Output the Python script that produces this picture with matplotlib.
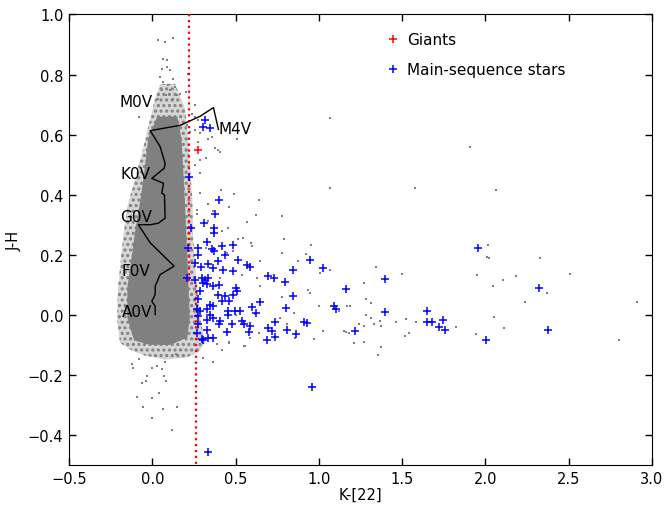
import matplotlib
matplotlib.use("Agg")
import matplotlib.pyplot as plt
from matplotlib.patches import Polygon

# dwarf sequence (locus) and its spectral type labels
locus_x = [0.397, 0.367, 0.287, 0.167, -0.013, 0.017, 0.047, 0.077, 0.071, -0.003, 0.067, 0.057,
           0.073, 0.077, 0.037, -0.013, -0.084, -0.013, 0.131, 0.047, 0.017, 0.017, -0.003, 0.017, 0.017]
locus_y = [0.617, 0.690, 0.661, 0.631, 0.613, 0.587, 0.560, 0.504, 0.488, 0.454, 0.438, 0.405,
           0.399, 0.322, 0.305, 0.300, 0.300, 0.240, 0.162, 0.134, 0.095, 0.067, 0.045, 0.029, 0.001]
sptype = ["M0V", "M4V", "K0V", "G0V", "F0V", "A0V"]
sptype_x = [0.0, 0.40, -0.01, 0.0, -0.01, 0.0]
sptype_y = [0.71, 0.62, 0.469, 0.329, 0.148, 0.012]

# colour cut (red dotted)
cut_x = [0.22, 0.22, None, 0.265, 0.265]
cut_y = [1.0, 0.10, None, 0.10, -0.5]

# giants
giant_x = [0.277]
giant_y = [0.548]

# main-sequence stars
ms_x = [0.317, 0.307, 0.347, 0.223,
        0.403, 0.377, 0.313, 0.371, 0.231, 0.371, 0.331, 0.484, 0.277, 0.358, 0.418, 0.373,
        0.438, 0.277, 0.397, 0.514, 0.257, 0.337, 0.568, 0.944, 0.584, 0.844, 1.025, 0.291,
        0.367, 0.692, 0.732, 0.794, 1.165, 0.844, 0.804, 1.088, 1.103, 0.738, 0.908, 0.928,
        0.692, 0.808, 0.718, 1.219, 0.864, 0.738, 0.688,
        0.424, 0.487, 0.211, 0.257, 0.297, 0.317, 0.337, 0.307, 0.327, 0.403, 0.367, 0.504,
        0.508, 0.287, 0.397, 0.438, 0.487, 0.277, 0.418, 0.463, 0.648, 0.347, 0.367, 0.598,
        0.267, 0.287, 0.327, 0.457, 0.498, 0.528, 0.624, 0.347, 0.457, 0.538, 0.277, 0.403,
        0.478, 0.588, 0.548, 0.327, 0.448, 0.578, 0.307, 0.367, 0.277, 0.367, 0.327, 0.407,
        0.267, 0.297, 0.337, 0.217,
        1.399, 1.956, 2.32, 1.399, 1.65, 1.65, 1.68, 1.743, 1.724, 1.76, 2.004, 2.375,
        0.96, 0.333]
ms_y = [0.648, 0.626, 0.623, 0.458,
        0.382, 0.335, 0.305, 0.289, 0.289, 0.274, 0.244, 0.233, 0.222, 0.220, 0.228, 0.211,
        0.200, 0.200, 0.180, 0.183, 0.172, 0.169, 0.167, 0.183, 0.158, 0.150, 0.156, 0.158,
        0.156, 0.128, 0.123, 0.109, 0.087, 0.062, 0.023, 0.029, 0.021, -0.023, -0.023, -0.027,
        -0.043, -0.049, -0.054, -0.054, -0.065, -0.074, -0.085,
        0.150, 0.145, 0.123, 0.117, 0.123, 0.117, 0.123, 0.106, 0.103, 0.100, 0.095, 0.090,
        0.079, 0.079, 0.067, 0.062, 0.067, 0.051, 0.047, 0.045, 0.043, 0.034, 0.029, 0.026,
        0.018, 0.012, 0.018, 0.012, 0.014, 0.014, 0.007, 0.001, 0.001, -0.019, -0.030, -0.032,
        -0.030, -0.037, -0.032, -0.049, -0.056, -0.056, -0.085, -0.076, -0.004, -0.010, -0.016, -0.021,
        -0.060, -0.082, -0.076, 0.222,
        0.119, 0.222, 0.09, 0.009, 0.012, -0.023, -0.024, -0.018, -0.040, -0.051, -0.084, -0.049,
        -0.24, -0.457]

# WISE field sources: sparse ones outside the dense clump
field_x = [0.037, 0.077, 0.127, 0.063, 0.091, 0.057, 0.087, 0.107, 0.047, 0.127, 0.067, 0.097,
           0.137, 0.057, 0.107, 0.083, 0.147, 0.037, 0.127, 0.167, 0.217, 0.203, -0.077, 0.237,
           0.257, 0.207, 0.227, 0.337, 0.277, 0.357, 0.407, 0.377, 0.508, 1.067, 1.91,
           0.257, 0.277, 0.287, 0.257, 0.397, 0.287, 0.323, 0.257, 0.287, 0.287, 0.267,
           1.579, 2.064, 2.016, 2.010, 2.024, 2.325, 1.345, 1.499, 1.950, 2.184, 2.505, 1.273,
           2.106, 2.046, 2.371, 1.285, 1.315, 2.240, 2.907, 1.169, 1.285, 1.315, 1.365, 1.465,
           1.525, 1.585, 1.333, 1.273, 1.241, 1.375, 2.054, 1.826, 2.112, 1.946, 1.543, 1.519,
           1.183, 1.163, 1.213, 1.273, 1.375, 1.355, 2.803,
           0.411, 0.492, 0.642, 1.069, 0.337, 0.463, 0.364, 0.624, 0.778, 0.267, 0.337, 0.568,
           0.418, 0.454, 0.517, 0.544, 0.592, 0.598, 0.788, 0.954, 0.323, 0.448, 0.487, 0.644,
           0.872, 0.924, 0.778, 0.538, 0.628, 1.004, 1.069, 0.648, 0.407, 0.778, 0.948, 0.998,
           0.932, 0.768, 0.848, 0.618, 0.504, 0.808, 1.025, 1.153, 1.239, 0.968, 0.858, 0.638,
           0.463, 0.558, 0.388, 1.189, 1.118,
           -0.123, -0.079, -0.117, -0.003, 0.027, 0.077, 0.057, -0.029, -0.063, -0.037, 0.083,
           0.073, 0.043, -0.090, -0.003, -0.053, 0.063, 0.147, -0.003, 0.117, 0.143, 0.307,
           0.364, 0.418, 0.458, 0.552, 0.588]
field_y = [0.915, 0.908, 0.921, 0.852, 0.847, 0.819, 0.825, 0.814, 0.792, 0.786, 0.775, 0.764,
           0.759, 0.747, 0.747, 0.731, 0.731, 0.720, 0.720, 0.736, 0.803, 0.742, 0.659, 0.670,
           0.659, 0.631, 0.609, 0.587, 0.576, 0.593, 0.543, 0.554, 0.587, 0.654, 0.56,
           0.698, 0.648, 0.604, 0.617, 0.548, 0.515, 0.521, 0.499, 0.471, 0.405, 0.349,
           0.421, 0.416, 0.233, 0.192, 0.189, 0.189, 0.159, 0.136, 0.134, 0.130, 0.136, 0.106,
           0.117, 0.097, 0.073, 0.051, 0.040, 0.043, 0.043, 0.031, 0.001, -0.012, -0.019, -0.023,
           -0.013, -0.023, -0.032, -0.036, -0.032, -0.036, -0.007, -0.040, -0.043, -0.065, -0.062, -0.069,
           -0.062, -0.056, -0.095, -0.091, -0.106, -0.135, -0.085,
           0.416, 0.402, 0.382, 0.421, 0.368, 0.358, 0.344, 0.331, 0.329, 0.335, 0.314, 0.308,
           0.278, 0.289, 0.253, 0.255, 0.239, 0.228, 0.252, 0.233, 0.222, 0.206, 0.213, 0.178,
           0.178, 0.203, 0.206, 0.134, 0.123, 0.139, 0.150, 0.095, 0.123, 0.059, 0.073, 0.029,
           0.081, -0.010, 0.007, 0.003, 0.001, -0.032, -0.054, -0.054, -0.032, -0.079, -0.076, -0.060,
           -0.090, -0.104, -0.098, 0.029, 0.012,
           -0.165, -0.148, -0.176, -0.176, -0.170, -0.156, -0.181, -0.203, -0.228, -0.222, -0.220,
           -0.203, -0.261, -0.272, -0.278, -0.308, -0.314, -0.306, -0.344, -0.384, -0.132, -0.145,
           -0.157, -0.118, -0.093, -0.104, -0.076]

# outline of the speckled clump and of its saturated centre
halo_x = [0.047, 0.137, 0.197, 0.215, 0.227, 0.240, 0.245, 0.262, 0.287, 0.317, 0.275, 0.197,
          0.077, -0.043, -0.133, -0.194, -0.212, -0.206, -0.182, -0.152, -0.103, -0.055, -0.013, 0.017]
halo_y = [0.769, 0.769, 0.687, 0.587, 0.488, 0.388, 0.255, 0.123, -0.010, -0.093, -0.126, -0.143,
          -0.149, -0.136, -0.116, -0.093, -0.010, 0.090, 0.222, 0.355, 0.454, 0.554, 0.653, 0.720]
core_x = [0.030, 0.150, 0.175, 0.185, 0.195, 0.205, 0.215, 0.225, 0.210, 0.107, -0.013, -0.110,
          -0.150, -0.150, -0.125, -0.100, -0.070, -0.045, -0.025]
core_y = [0.660, 0.660, 0.587, 0.488, 0.388, 0.255, 0.123, -0.010, -0.076, -0.100, -0.100, -0.085,
          -0.010, 0.090, 0.189, 0.289, 0.388, 0.488, 0.587]

fig = plt.figure(figsize=(6.65, 5.06), dpi=100)
ax = fig.add_axes([0.1038, 0.0791, 0.8767, 0.8903])

grey = "#808080"
plt.rcParams["hatch.linewidth"] = 1.5
ax.add_patch(Polygon(list(zip(halo_x, halo_y)), closed=True, facecolor="#d6d6d6",
                     edgecolor=grey, hatch="...", linewidth=0, zorder=1))
ax.add_patch(Polygon(list(zip(core_x, core_y)), closed=True, facecolor=grey,
                     edgecolor="none", zorder=1))
ax.scatter(field_x, field_y, s=3, marker="s", color=grey, linewidths=0, zorder=2)

ax.plot(cut_x, cut_y, color="red", linestyle=":", linewidth=1.6, zorder=3)
ax.plot(locus_x, locus_y, color="black", linewidth=1, zorder=4)
for lab, tx, ty in zip(sptype, sptype_x, sptype_y):
    ha = "left" if lab == "M4V" else "right"
    ax.text(tx, ty, lab, fontsize=11, ha=ha, va="center", zorder=5)

ax.plot(giant_x, giant_y, "+", color="red", ms=6, mew=1.1, label="Giants", zorder=5)
ax.plot(ms_x, ms_y, "+", color="blue", ms=6, mew=1.1, label="Main-sequence stars", zorder=5)

ax.set_xlim(-0.5, 3.0)
ax.set_ylim(-0.5, 1.0)
ax.set_xlabel("K-[22]", fontsize=10.5, labelpad=1)
ax.set_ylabel("J-H", fontsize=10.5)
ax.tick_params(direction="in", top=True, right=True, length=5, width=1, labelsize=10.5, pad=4)
ax.legend(loc="upper left", bbox_to_anchor=(0.532, 0.975), borderaxespad=0, frameon=False,
          numpoints=1, handlelength=1.0, handletextpad=0.4, labelspacing=1.0, fontsize=11)

fig.savefig("out.png", dpi=100)
